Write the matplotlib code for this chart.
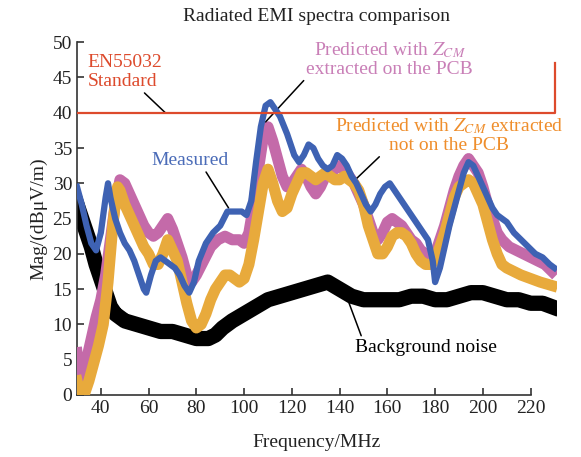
import numpy as np
import matplotlib
matplotlib.use('Agg')
from matplotlib import pyplot as plt

plt.rcParams['font.family'] = ['Liberation Serif', 'DejaVu Serif']
plt.rcParams['mathtext.fontset'] = 'stix'

# measured spectrum (blue)
f_meas = [30, 32, 34, 36, 38, 40, 42, 43, 44, 46, 48, 50, 52, 54, 56, 58, 59, 61, 63, 65, 67, 69, 71, 73, 75, 77,
          79, 81, 84, 87, 90, 93, 96, 99, 101, 103, 105, 107, 109, 111, 113, 115, 118, 121, 123, 125, 127, 129,
          131, 133, 135, 137, 139, 141, 143, 145, 147, 149, 151, 153, 155, 157, 159, 161, 163, 165, 167, 169,
          171, 173, 175, 177, 179, 180, 182, 184, 186, 188, 190, 192, 194, 196, 198, 200, 202, 204, 206, 208,
          210, 213, 216, 219, 222, 225, 228, 230]
v_meas = [29.5, 27, 24, 21.5, 20.5, 23, 28, 30, 28, 25, 23, 21.5, 20.5, 19, 17, 15, 14.5, 17, 19, 19.5, 19, 18.5, 18,
          17, 15.5, 14.5, 16, 19, 21.5, 23, 24, 26, 26, 26, 25.5, 27.5, 33, 38, 41, 41.5, 40.5, 39.5, 37, 34, 33,
          34, 35.5, 35, 33.5, 32.5, 32, 32.5, 34, 33.5, 32.5, 31, 30, 28.5, 27, 26, 27, 28.5, 29.5, 30, 29, 28,
          27, 26, 25, 24, 23, 22, 19, 16, 18, 21, 24, 26.5, 29, 31.5, 33, 32.5, 31, 29.5, 28, 26.5, 25.5, 25,
          24.5, 23, 22, 21, 20, 19.5, 18.5, 18]

# predicted, Z_CM extracted on the PCB (pink)
f_pcb = [30, 31, 32, 34, 36, 38, 40, 42, 44, 46, 48, 50, 52, 54, 56, 58, 60, 62, 64, 66, 68, 70, 72, 74, 76, 78, 80,
         83, 86, 89, 92, 95, 98, 100, 102, 104, 106, 108, 110, 112, 114, 116, 118, 120, 122, 124, 126, 128, 130,
         132, 134, 136, 138, 140, 142, 144, 146, 148, 150, 152, 154, 156, 158, 160, 162, 164, 166, 168, 170, 172,
         174, 176, 178, 180, 182, 184, 186, 188, 190, 192, 194, 196, 198, 200, 202, 204, 206, 208, 211, 214, 217,
         220, 223, 226, 229]
v_pcb = [6, 3, 1, 5, 8, 11, 13.5, 17, 22, 27, 30.5, 30, 28.5, 27, 25.5, 24, 23, 22.5, 23, 24, 25, 23.5, 21.5, 19.5,
         17, 16, 17, 19, 21, 22, 22.5, 22, 22, 21.5, 23, 27, 32, 36.5, 38, 36, 33.5, 31, 29.5, 30, 31, 32, 31,
         29.5, 28.5, 29.5, 31, 31.5, 32, 32.5, 32, 31, 30, 28.5, 27, 25, 23, 22, 23, 24.5, 25, 24.5, 24, 23, 22,
         21.5, 20.5, 20, 19.5, 20, 22, 24, 26.5, 29, 31, 32.5, 33.5, 32.5, 31.5, 29.5, 27, 25, 23, 22, 21, 20.5,
         20, 19.5, 19, 18.5, 17.5]

# predicted, Z_CM extracted not on the PCB (yellow)
f_nopcb = [30, 31, 33, 35, 37, 39, 41, 42, 43, 44, 45, 46, 47, 48, 50, 52, 54, 56, 58, 60, 62, 64, 66, 68, 70, 72,
           74, 76, 78, 80, 82, 84, 86, 88, 90, 92, 94, 96, 98, 100, 102, 104, 106, 108, 110, 112, 114, 116, 118,
           120, 122, 124, 126, 128, 130, 132, 134, 136, 138, 140, 142, 144, 146, 148, 150, 152, 154, 156, 158, 160,
           162, 164, 166, 168, 170, 172, 174, 176, 178, 180, 182, 184, 186, 188, 190, 192, 194, 196, 198, 200, 202,
           204, 206, 208, 210, 213, 216, 220, 224, 229]
v_nopcb = [2, 0.5, 0, 2, 4.5, 7, 10, 13, 16, 20, 24, 27, 29.5, 29, 27, 25.5, 24, 22.5, 21, 20, 18.5, 18.5, 20, 22,
           20.5, 19, 16, 13, 10.5, 9.5, 10, 11.5, 13.5, 15, 16, 17, 17, 16.5, 16, 16.5, 18.5, 22, 26, 30, 32, 30,
           27.5, 26, 26.5, 28.5, 30, 31.5, 31.5, 31, 30.5, 31, 31.5, 31, 30.5, 30.5, 31, 30.5, 30, 29, 27, 24, 22,
           20, 20, 21, 22.5, 23, 23, 22.5, 21.5, 20, 19, 18.5, 18.5, 19, 21, 23, 25.5, 28, 29.5, 30, 30.5, 30, 28.5,
           27, 24.5, 22, 20, 18.5, 18, 17.5, 17, 16.5, 16, 15.5]

# background noise (black)
f_bg = [30, 32, 34, 36, 38, 40, 42, 44, 46, 48, 50, 55, 60, 65, 70, 75, 80, 85, 88, 91, 95, 100, 105, 110, 115, 120,
        125, 130, 135, 140, 145, 150, 155, 160, 165, 170, 175, 180, 185, 190, 195, 200, 205, 210, 215, 220, 225, 229]
v_bg = [27, 25, 23, 21, 18.5, 16.5, 14.5, 12.5, 11.5, 11, 10.5, 10, 9.5, 9, 9, 8.5, 8, 8, 8.5, 9.5, 10.5, 11.5, 12.5,
        13.5, 14, 14.5, 15, 15.5, 16, 15, 14, 13.5, 13.5, 13.5, 13.5, 14, 14, 13.5, 13.5, 14, 14.5, 14.5, 14, 13.5,
        13.5, 13, 13, 12.5]

# EN55032 limit
f_lim = [30, 230, 230]
v_lim = [40, 40, 47]

fig = plt.figure(figsize=(5.81, 4.57), dpi=100)
ax = fig.add_axes([0.1325, 0.1357, 0.826, 0.772])

ax.plot(f_bg, v_bg, color='black', lw=11, solid_joinstyle='round', zorder=2)
ax.plot(f_pcb, v_pcb, color='#c46aa9', lw=8, solid_joinstyle='round', zorder=3)
ax.plot(f_nopcb, v_nopcb, color='#e8aa3c', lw=8, solid_joinstyle='round', zorder=4)
ax.plot(f_meas, v_meas, color='#3e62b3', lw=4.5, solid_joinstyle='round', zorder=5)
ax.plot(f_lim, v_lim, color='#dd4a2c', lw=1.6, zorder=6)

ax.set_xlim(30, 231)
ax.set_ylim(0, 50)
ax.set_xticks(np.arange(40, 221, 20))
ax.set_yticks(np.arange(0, 51, 5))
ax.spines['top'].set_visible(False)
ax.spines['right'].set_visible(False)
ax.spines['bottom'].set_bounds(30, 220)
for s in ['left', 'bottom']:
    ax.spines[s].set_linewidth(1.2)
    ax.spines[s].set_color('#333333')
ax.tick_params(direction='in', length=5, width=1.1, labelsize=14, colors='#222222')

ax.set_title('Radiated EMI spectra comparison', fontsize=14, pad=15, color='#222222')
ax.set_xlabel('Frequency/MHz', fontsize=14, labelpad=12, color='#222222')
ax.set_ylabel('Mag/(dBμV/m)', fontsize=14, labelpad=4, color='#222222')

ax.annotate('EN55032\nStandard', xy=(67, 40), xytext=(34.5, 43.2), color='#dd4a2c', fontsize=14,
            ha='left', va='bottom', linespacing=1.2,
            arrowprops=dict(arrowstyle='-', color='black', lw=1.1, shrinkA=0, shrinkB=0,
                            relpos=(0.72, 0.0)))
ax.annotate('Predicted with $Z_{CM}$\nextracted on the PCB', xy=(109, 38.7), xytext=(161, 47.6),
            color='#c97fb7', fontsize=14, ha='center', va='center', linespacing=1.05,
            arrowprops=dict(arrowstyle='-', color='black', lw=1.1, shrinkA=0, shrinkB=0,
                            relpos=(0.02, 0.1)))
ax.annotate('Predicted with $Z_{CM}$ extracted\nnot on the PCB', xy=(145, 30), xytext=(186, 36.8),
            color='#ef8e2c', fontsize=14, ha='center', va='center', linespacing=1.05,
            arrowprops=dict(arrowstyle='-', color='black', lw=1.1, shrinkA=0, shrinkB=0,
                            relpos=(0.24, 0.2)))
ax.annotate('Measured', xy=(93.5, 26.5), xytext=(77.5, 33.2), color='#4b6cb8', fontsize=14,
            ha='center', va='center',
            arrowprops=dict(arrowstyle='-', color='black', lw=1.1, shrinkA=0, shrinkB=0,
                            relpos=(0.68, 0.0)))
ax.annotate('Background noise', xy=(142, 14.8), xytext=(146.5, 6.8), color='black', fontsize=14,
            ha='left', va='center',
            arrowprops=dict(arrowstyle='-', color='black', lw=1.1, shrinkA=0, shrinkB=0,
                            relpos=(0.05, 1.0)))

plt.savefig('out.png', dpi=100)
